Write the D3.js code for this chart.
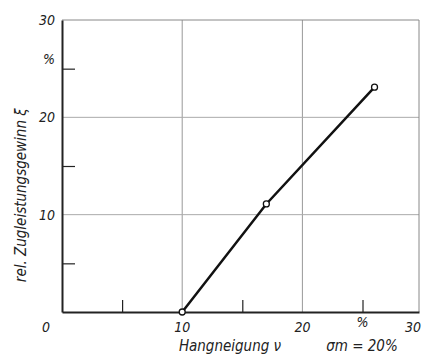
<!DOCTYPE html>
<html>
<head>
<meta charset="utf-8">
<script src="https://cdn.jsdelivr.net/npm/d3@7"></script>
<style>
  html, body { margin: 0; padding: 0; background: #fff; }
  svg { display: block; }
  text { font-family: 'DejaVu Sans Condensed', 'Liberation Sans Narrow', sans-serif; font-style: italic; fill: #222; }
</style>
</head>
<body>
<script>
const slope = [10, 17, 26]
const gain = [0, 11.1, 23.1]
const x_labels = ['0', '10', '20', '30']
const y_labels = ['10', '20', '30']
const minor_ticks = [5, 15, 25]
const grid_lines = [10, 20]

const width = 423
const height = 357
const margin = {top: 20, right: 4, bottom: 45, left: 62}

const svg = d3.select('body').append('svg')
  .attr('width', width)
  .attr('height', height)

const x = d3.scaleLinear().domain([0, 29.7]).range([margin.left, width - margin.right])
const y = d3.scaleLinear().domain([0, 30]).range([height - margin.bottom, margin.top])

// grid
svg.append('g').selectAll('line')
  .data(grid_lines)
  .join('line')
    .attr('x1', d => x(d)).attr('x2', d => x(d))
    .attr('y1', y(30)).attr('y2', y(0))
    .attr('stroke', '#999').attr('stroke-width', 1)
svg.append('g').selectAll('line')
  .data(grid_lines)
  .join('line')
    .attr('y1', d => y(d)).attr('y2', d => y(d))
    .attr('x1', x(0)).attr('x2', x(29.7))
    .attr('stroke', '#aaa').attr('stroke-width', 1)

// frame top/right
svg.append('path')
  .attr('d', `M${x(0)},${y(30)} H${x(29.7)} V${y(0)}`)
  .attr('fill', 'none').attr('stroke', '#888').attr('stroke-width', 1)

// axes
svg.append('g')
  .attr('transform', `translate(0,${y(0)})`)
  .call(d3.axisBottom(x).tickValues(minor_ticks).tickSize(-12).tickFormat('').tickSizeOuter(0))
  .call(g => g.selectAll('path, line').attr('stroke', '#222').attr('stroke-width', 1.2))
  .call(g => g.select('.domain').attr('stroke-width', 2))
svg.append('g')
  .attr('transform', `translate(${x(0)},0)`)
  .call(d3.axisLeft(y).tickValues(minor_ticks).tickSize(-13).tickFormat('').tickSizeOuter(0))
  .call(g => g.selectAll('path, line').attr('stroke', '#222').attr('stroke-width', 1.2))
  .call(g => g.select('.domain').attr('stroke-width', 2))

// tick labels
svg.append('g').selectAll('text')
  .data(x_labels)
  .join('text')
    .attr('x', (d, i) => i === 0 ? x(0) - 16 : (i === 3 ? width - 2 : x(+d)))
    .attr('y', y(0) + 20)
    .attr('text-anchor', (d, i) => i === 3 ? 'end' : 'middle')
    .attr('font-size', 14)
    .text(d => d)
svg.append('text')
  .attr('x', x(25)).attr('y', y(0) + 15)
  .attr('text-anchor', 'middle').attr('font-size', 14)
  .text('%')
svg.append('g').selectAll('text')
  .data(y_labels)
  .join('text')
    .attr('x', x(0) - 7)
    .attr('y', d => y(+d) + 5)
    .attr('text-anchor', 'end')
    .attr('font-size', 14)
    .text(d => d)
svg.append('text')
  .attr('x', x(0) - 7).attr('y', y(25.5))
  .attr('text-anchor', 'end').attr('font-size', 14)
  .text('%')

// titles
svg.append('text')
  .attr('x', 230).attr('y', 351)
  .attr('text-anchor', 'middle').attr('font-size', 15)
  .text('Hangneigung ν')
svg.append('text')
  .attr('x', 362).attr('y', 351)
  .attr('text-anchor', 'middle').attr('font-size', 15)
  .text('σm = 20%')
svg.append('text')
  .attr('transform', `translate(26,${y(12)}) rotate(-90)`)
  .attr('text-anchor', 'middle').attr('font-size', 15)
  .text('rel. Zugleistungsgewinn ξ')

// data
const pts = slope.map((s, i) => [s, gain[i]])
svg.append('path')
  .datum(pts)
  .attr('d', d3.line().x(d => x(d[0])).y(d => y(d[1])))
  .attr('fill', 'none').attr('stroke', '#111').attr('stroke-width', 2.5)
svg.append('g').selectAll('circle')
  .data(pts)
  .join('circle')
    .attr('cx', d => x(d[0])).attr('cy', d => y(d[1]))
    .attr('r', 3).attr('fill', '#fff').attr('stroke', '#111').attr('stroke-width', 1.3)
</script>
</body>
</html>
